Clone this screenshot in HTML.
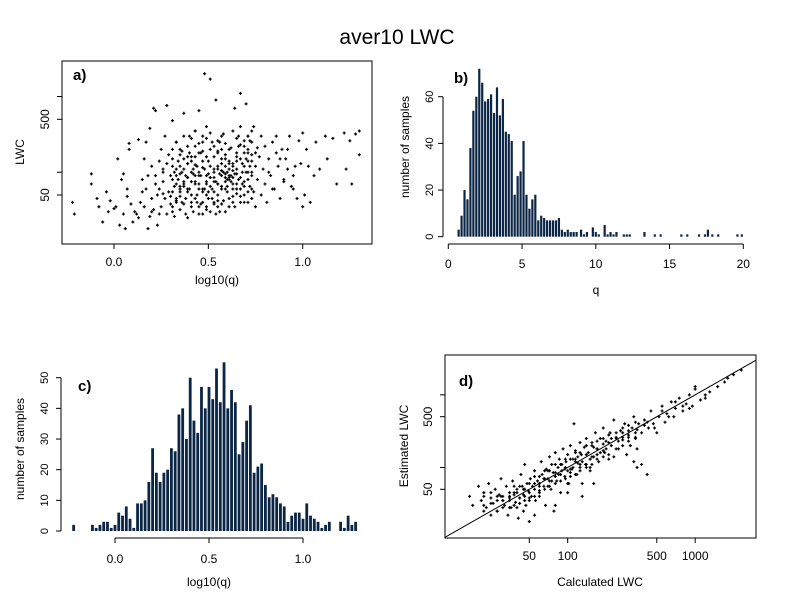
<!DOCTYPE html>
<html><head><meta charset="utf-8">
<style>
body{margin:0;background:#fff;}
svg{display:block;font-family:"Liberation Sans",sans-serif;}
text{fill:#000;}
</style></head>
<body>
<svg id="fig" width="792" height="611" viewBox="0 0 792 611">
<rect width="792" height="611" fill="#fff"/>
<text x="397" y="44" font-size="21" text-anchor="middle">aver10 LWC</text>
<g id="pa"></g>
<g id="pb"></g>
<g id="pc"></g>
<g id="pd"></g>
</svg>
<script>
// ---- Panel a data: log10(q) vs LWC ----
const aX=[-0.22,-0.21,-0.12,-0.12,-0.09,-0.08,-0.06,-0.04,-0.03,-0.02,0.0,0.01,0.02,0.03,0.04,0.05,0.05,0.06,0.07,0.07,0.08,0.08,0.09,0.1,0.11,0.12,0.13,0.13,0.14,0.15,0.15,0.16,0.17,0.17,0.18,0.19,0.19,0.2,0.2,0.21,0.21,0.22,0.22,0.23,0.23,0.24,0.24,0.25,0.25,0.26,0.26,0.27,0.27,0.28,0.28,0.29,0.29,0.3,0.3,0.31,0.31,0.32,0.32,0.33,0.33,0.34,0.34,0.35,0.35,0.36,0.36,0.37,0.37,0.38,0.38,0.39,0.39,0.4,0.4,0.41,0.41,0.42,0.42,0.43,0.43,0.44,0.44,0.45,0.45,0.46,0.46,0.47,0.47,0.48,0.48,0.49,0.49,0.5,0.5,0.51,0.51,0.52,0.52,0.53,0.53,0.54,0.54,0.55,0.55,0.56,0.56,0.57,0.57,0.58,0.58,0.59,0.59,0.6,0.6,0.61,0.61,0.62,0.62,0.63,0.63,0.64,0.64,0.65,0.65,0.66,0.66,0.67,0.67,0.68,0.68,0.69,0.69,0.7,0.7,0.71,0.71,0.72,0.72,0.73,0.73,0.74,0.74,0.75,0.75,0.76,0.76,0.77,0.78,0.78,0.79,0.8,0.8,0.81,0.82,0.83,0.84,0.85,0.86,0.87,0.88,0.89,0.9,0.91,0.92,0.93,0.94,0.95,0.96,0.98,1.0,1.0,1.01,1.02,1.03,1.04,1.06,1.07,1.09,1.12,1.13,1.16,1.18,1.22,1.23,1.25,1.26,1.28,1.3,1.3,
0.45,0.5,0.55,0.6,0.62,0.58,0.48,0.52,0.42,0.38,0.65,0.7,0.55,0.6,0.63,0.46,0.5,0.53,0.57,0.4,0.35,0.32,0.68,0.72,0.75,0.44,0.49,0.54,0.59,0.64,0.3,0.26,0.61,0.66,0.71,0.56,0.47,0.43,0.39,0.36,
0.31,0.33,0.35,0.37,0.39,0.41,0.43,0.45,0.47,0.49,0.51,0.53,0.55,0.57,0.59,0.61,0.63,0.65,0.67,0.69,0.71,0.73,
0.31,0.33,0.35,0.37,0.39,0.41,0.43,0.45,0.47,0.49,0.51,0.53,0.55,0.57,0.59,0.61,0.63,0.65,0.67,0.69,0.71,0.73,
0.31,0.33,0.35,0.37,0.39,0.41,0.43,0.45,0.47,0.49,0.51,0.53,0.55,0.57,0.59,0.61,0.63,0.65,0.67,0.69,0.71,0.73,
0.31,0.33,0.35,0.37,0.39,0.41,0.43,0.45,0.47,0.49,0.51,0.53,0.55,0.57,0.59,0.61,0.63,0.65,0.67,0.69,0.71,0.73,
0.31,0.33,0.35,0.37,0.39,0.41,0.43,0.45,0.47,0.49,0.51,0.53,0.55,0.57,0.59,0.61,0.63,0.65,0.67,0.69,0.71,0.73,
0.31,0.33,0.35,0.37,0.39,0.41,0.43,0.45,0.47,0.49,0.51,0.53,0.55,0.57,0.59,0.61,0.63,0.65,0.67,0.69,0.71,0.73,
0.16,0.18,0.2,0.22,0.24,0.26,0.28,0.82,0.84,0.86,0.88,0.9,0.92,0.95,0.97,0.99];
const aY=[40,28,95,70,45,35,22,55,30,42,33,35,150,20,80,95,28,18,48,60,240,200,38,22,30,28,25,270,40,80,55,35,250,60,18,26,380,45,120,32,700,650,90,50,20,140,60,35,200,110,75,45,300,760,28,55,170,90,38,120,480,65,26,250,42,80,140,55,32,190,100,70,600,45,28,130,85,60,300,40,160,95,30,75,220,50,120,650,35,90,180,55,28,2000,110,70,400,45,140,85,1700,60,250,38,110,75,900,50,180,95,30,130,65,42,320,85,150,100,55,90,35,210,75,120,48,700,95,160,60,80,300,40,1100,130,70,220,50,100,800,180,40,65,260,140,90,55,400,120,35,210,80,160,50,300,110,70,220,40,150,90,250,60,180,120,45,200,80,150,110,300,65,60,120,260,35,330,50,200,120,40,90,250,110,300,150,280,70,330,110,260,70,320,170,350,
70,95,120,80,90,100,60,45,110,90,140,150,70,65,85,38,55,75,200,180,65,100,100,120,180,40,32,28,30,35,48,52,140,220,300,250,300,350,60,40,
30,45,60,38,25,50,70,28,40,35,30,55,42,38,60,45,70,52,48,65,80,60,
80,110,95,150,130,75,160,100,140,90,120,160,190,105,95,110,130,95,150,180,140,100,
200,250,170,300,220,280,350,240,190,280,330,220,260,300,240,200,350,280,400,260,300,350,
55,70,120,65,85,100,45,90,60,75,65,85,70,90,75,80,60,70,85,75,55,45,
150,40,200,110,55,140,90,180,115,50,200,100,35,150,120,130,105,180,60,120,200,170,
35,90,48,75,160,35,125,60,250,160,85,40,110,60,170,85,40,110,230,40,100,250,
150,90,30,70,28,100,130,100,60,300,150,75,200,90,45,130];
// ---- Panel b data: histogram of q ----
const bQ=[0.7,0.9,1.1,1.3,1.5,1.7,1.9,2.1,2.3,2.5,2.7,2.9,3.1,3.3,3.5,3.7,3.9,4.1,4.3,4.5,4.7,4.9,5.1,5.3,5.5,5.7,5.9,6.1,6.3,6.5,6.7,6.9,7.1,7.3,7.5,7.7,7.9,8.1,8.3,8.5,8.7,9.0,9.2,9.4,9.8,10.0,10.2,10.6,10.8,11.0,11.2,11.4,11.9,12.1,12.3,13.3,14.0,14.4,15.8,16.2,17.0,17.4,17.6,17.9,18.3,19.6,19.9];
const bN=[3,9,20,16,38,54,60,72,66,58,59,61,53,64,52,59,45,44,41,18,26,28,41,18,12,16,18,7,9,8,7,7,7,7,8,3,2,3,2,2,2,3,1,2,4,2,1,5,1,2,1,2,1,1,1,2,1,1,1,1,1,1,3,1,1,1,1];
const bXTicks=[0,5,10,15,20];
const bYTicks=[0,20,40,60];
// ---- Panel c data: histogram of log10(q) ----
const cStart=-0.22, cWidth=0.02;
const cN=[2,0,0,0,0,2,1,2,3,3,1,2,6,5,8,4,1,9,9,10,16,27,19,16,19,20,27,26,38,40,30,50,36,32,47,40,47,43,53,42,55,40,46,42,25,29,36,41,19,21,22,15,11,12,11,9,8,3,5,6,6,4,9,5,4,3,1,2,3,0,0,3,1,5,2,3];
const cXTicks=[0.0,0.5,1.0];
const cYTicks=[0,10,20,30,40,50];
// ---- Panel d data: calculated vs estimated LWC ----
const dX=[17,18,20,21,22,23,24,25,26,27,28,29,30,31,32,33,34,35,36,37,38,39,40,41,42,43,44,45,46,47,48,49,50,51,52,53,55,56,58,60,62,63,65,67,68,70,72,74,75,77,78,80,82,84,86,88,90,92,95,97,100,102,105,108,110,112,115,118,120,125,128,130,135,138,140,145,150,155,160,165,170,175,180,190,195,200,210,215,220,230,240,250,260,270,280,290,300,310,320,330,340,350,360,380,400,420,430,450,470,500,520,550,580,600,650,680,700,750,800,850,900,950,1000,1100,1200,1300,1700,1800,2000,2300,
60,70,80,90,100,110,120,130,150,170,200,250,300,85,95,105,115,140,160,180,220,270,45,40,35,55,65,75,125,190,350,400,30,50,60,70,100,150,230,330,350,380,40,45,100,130,160,55,80,
22,25,28,31,35,38,42,46,50,55,60,66,72,80,88,96,105,115,125,140,155,170,190,210,240,270,300,340,
22,25,28,31,35,38,42,46,50,55,60,66,72,80,88,96,105,115,125,140,155,170,190,210,240,270,300,340,
22,25,28,31,35,38,42,46,50,55,60,66,72,80,88,96,105,115,125,140,155,170,190,210,240,270,300,340,
420,480,550,620,700,800,900,1000,1200,1500];
const dY=[40,30,55,35,45,28,60,38,32,50,25,42,70,35,30,55,22,40,28,65,45,33,50,20,38,80,55,42,110,30,60,48,18,70,40,55,90,35,65,45,120,80,55,30,95,70,140,50,110,85,25,160,65,100,130,45,90,180,75,120,150,60,200,95,130,400,170,80,115,220,150,60,190,110,250,160,90,220,140,300,180,120,250,350,160,230,130,300,200,450,260,180,320,240,400,150,280,200,350,500,260,180,400,300,450,80,350,600,400,300,500,700,420,550,800,500,650,900,600,750,1000,700,1300,850,900,1100,1500,1700,1900,2200,
60,55,75,110,90,100,140,120,130,150,180,230,260,80,95,85,130,110,190,160,250,300,50,45,38,50,70,65,100,210,330,380,40,35,40,90,60,100,140,120,100,110,28,25,45,40,60,22,30,
30,32,25,40,35,42,38,50,45,60,55,70,65,85,80,100,95,120,110,150,140,180,170,220,250,260,320,300,
40,22,35,28,45,30,55,40,60,40,75,50,90,60,110,70,130,80,160,100,200,130,250,150,300,200,380,250,
25,45,40,35,28,55,32,35,38,75,48,90,55,110,65,130,75,160,90,200,110,230,140,280,180,350,230,420,
420,350,600,500,800,700,650,1200,1000,1300];
const dTicks=[50,100,500,1000];
const aYTicks=[50,100,500,1000];

const NS="http://www.w3.org/2000/svg";
function mk(tag,attrs,parent){const e=document.createElementNS(NS,tag);for(const k in attrs)e.setAttribute(k,attrs[k]);parent.appendChild(e);return e;}
const BAR="#0b2545";
function plus(g,x,y){const p=mk('path',{d:`M${x-1.5},${y}h3M${x},${y-1.5}v3`,stroke:'#000','stroke-width':1.2},g);return p;}

// ---------- Panel a ----------
(function(){
 const g=document.getElementById('pa');
 const L=62,R=372,T=61,B=244;
 const sx=v=>114+(v-0)*188.7;
 const sy=v=>195-(Math.log10(v)-Math.log10(50))*75.7;
 const box=mk('rect',{x:L,y:T,width:R-L,height:B-T,fill:'none',stroke:'#000'},g);
 
 
 const pts=mk('g',{},g);
 
 
 for(let i=0;i<aX.length;i++){const p=plus(pts,sx(aX[i]),sy(aY[i]));
  
  }
 cXTicks.forEach(t=>{const x=sx(t);
  mk('line',{x1:x,x2:x,y1:B,y2:B+5,stroke:'#000'},g);
  const tx=mk('text',{x:x,y:B+22,'font-size':12,'text-anchor':'middle'},g);tx.textContent=t.toFixed(1);
  
  });
 aYTicks.forEach(t=>{const y=sy(t);
  mk('line',{x1:L,x2:L-5,y1:y,y2:y,stroke:'#000'},g);
  if(t==50||t==500){const tx=mk('text',{x:0,y:0,'font-size':12,'text-anchor':'middle',transform:`translate(49,${y}) rotate(-90)`},g);tx.textContent=t;
  
  }});
 const lab=mk('text',{x:73,y:80,'font-size':15,'font-weight':'bold'},g);lab.textContent='a)';
 
 
 const xt=mk('text',{x:217,y:284,'font-size':12,'text-anchor':'middle'},g);xt.textContent='log10(q)';
 
 
 const yt=mk('text',{x:0,y:0,'font-size':12,'text-anchor':'middle',transform:'translate(24,152) rotate(-90)'},g);yt.textContent='LWC';
 
 
})();

// ---------- Panel b ----------
(function(){
 const g=document.getElementById('pb');
 const sx=v=>448.3+v*14.75;
 const sy=v=>236.7-v*2.333;
 for(let i=0;i<bQ.length;i++){
  const r=mk('rect',{x:sx(bQ[i])-1.1,y:sy(bN[i]),width:2.2,height:sy(0)-sy(bN[i]),fill:BAR},g);
  
  }
 mk('line',{x1:sx(0),x2:sx(20),y1:244,y2:244,stroke:'#000'},g);
 bXTicks.forEach(t=>{const x=sx(t);mk('line',{x1:x,x2:x,y1:244,y2:249,stroke:'#000'},g);
  const tx=mk('text',{x:x,y:268,'font-size':12,'text-anchor':'middle'},g);tx.textContent=t;
  
  });
 mk('line',{x1:443,x2:443,y1:sy(0),y2:sy(60),stroke:'#000'},g);
 bYTicks.forEach(t=>{const y=sy(t);mk('line',{x1:443,x2:438,y1:y,y2:y,stroke:'#000'},g);
  const tx=mk('text',{x:0,y:0,'font-size':11,'text-anchor':'middle',transform:`translate(433,${y}) rotate(-90)`},g);tx.textContent=t;
  
  });
 const lab=mk('text',{x:454,y:83,'font-size':15,'font-weight':'bold'},g);lab.textContent='b)';
 
 
 const xt=mk('text',{x:596,y:294,'font-size':12,'text-anchor':'middle'},g);xt.textContent='q';
 
 
 const yt=mk('text',{x:0,y:0,'font-size':12,'text-anchor':'middle',transform:'translate(409,147) rotate(-90)'},g);yt.textContent='number of samples';
 
 
})();

// ---------- Panel c ----------
(function(){
 const g=document.getElementById('pc');
 const sx=v=>115+v*188;
 const sy=v=>531-v*3.066;
 for(let i=0;i<cN.length;i++){if(!cN[i])continue;
  const c=cStart+i*cWidth;
  const r=mk('rect',{x:sx(c)-1.4,y:sy(cN[i]),width:2.8,height:sy(0)-sy(cN[i]),fill:BAR},g);
  
  }
 mk('line',{x1:sx(0),x2:sx(1),y1:538,y2:538,stroke:'#000'},g);
 cXTicks.forEach(t=>{const x=sx(t);mk('line',{x1:x,x2:x,y1:538,y2:543,stroke:'#000'},g);
  const tx=mk('text',{x:x,y:563,'font-size':12,'text-anchor':'middle'},g);tx.textContent=t.toFixed(1);
  
  });
 mk('line',{x1:61,x2:61,y1:sy(0),y2:sy(50),stroke:'#000'},g);
 cYTicks.forEach(t=>{const y=sy(t);mk('line',{x1:61,x2:56,y1:y,y2:y,stroke:'#000'},g);
  const tx=mk('text',{x:0,y:0,'font-size':11,'text-anchor':'middle',transform:`translate(48,${y}) rotate(-90)`},g);tx.textContent=t;
  
  });
 const lab=mk('text',{x:78,y:391,'font-size':15,'font-weight':'bold'},g);lab.textContent='c)';
 
 
 const xt=mk('text',{x:209,y:586,'font-size':12,'text-anchor':'middle'},g);xt.textContent='log10(q)';
 
 
 const yt=mk('text',{x:0,y:0,'font-size':12,'text-anchor':'middle',transform:'translate(24,449) rotate(-90)'},g);yt.textContent='number of samples';
 
 
})();

// ---------- Panel d ----------
(function(){
 const g=document.getElementById('pd');
 const L=445,R=756,T=355,B=538;
 const sx=v=>529.3+(Math.log10(v)-Math.log10(50))*127.5;
 const sy=v=>489.3-(Math.log10(v)-Math.log10(50))*72.6;
 const cp=mk('clipPath',{id:'clipd'},g);mk('rect',{x:L,y:T,width:R-L,height:B-T},cp);
 const box=mk('rect',{x:L,y:T,width:R-L,height:B-T,fill:'none',stroke:'#000'},g);
 
 
 const pts=mk('g',{'clip-path':'url(#clipd)'},g);
 
 
 for(let i=0;i<dX.length;i++){const p=plus(pts,sx(dX[i]),sy(dY[i]));
  
  }
 const ln=mk('line',{x1:sx(10),y1:sy(10),x2:sx(3000),y2:sy(3000),stroke:'#000','clip-path':'url(#clipd)'},g);
 
 
 dTicks.forEach(t=>{const x=sx(t);mk('line',{x1:x,x2:x,y1:B,y2:B+5,stroke:'#000'},g);
  const tx=mk('text',{x:x,y:560,'font-size':12,'text-anchor':'middle'},g);tx.textContent=t;
  
  
  const y=sy(t);mk('line',{x1:L,x2:L-5,y1:y,y2:y,stroke:'#000'},g);
  if(t==50||t==500){const ty=mk('text',{x:0,y:0,'font-size':12,'text-anchor':'middle',transform:`translate(432,${y}) rotate(-90)`},g);ty.textContent=t;
  
  }});
 const lab=mk('text',{x:459,y:386,'font-size':15,'font-weight':'bold'},g);lab.textContent='d)';
 
 
 const xt=mk('text',{x:600,y:586,'font-size':12,'text-anchor':'middle'},g);xt.textContent='Calculated LWC';
 
 
 const yt=mk('text',{x:0,y:0,'font-size':12,'text-anchor':'middle',transform:'translate(408,446) rotate(-90)'},g);yt.textContent='Estimated LWC';
 
 
})();
</script>
</body></html>
